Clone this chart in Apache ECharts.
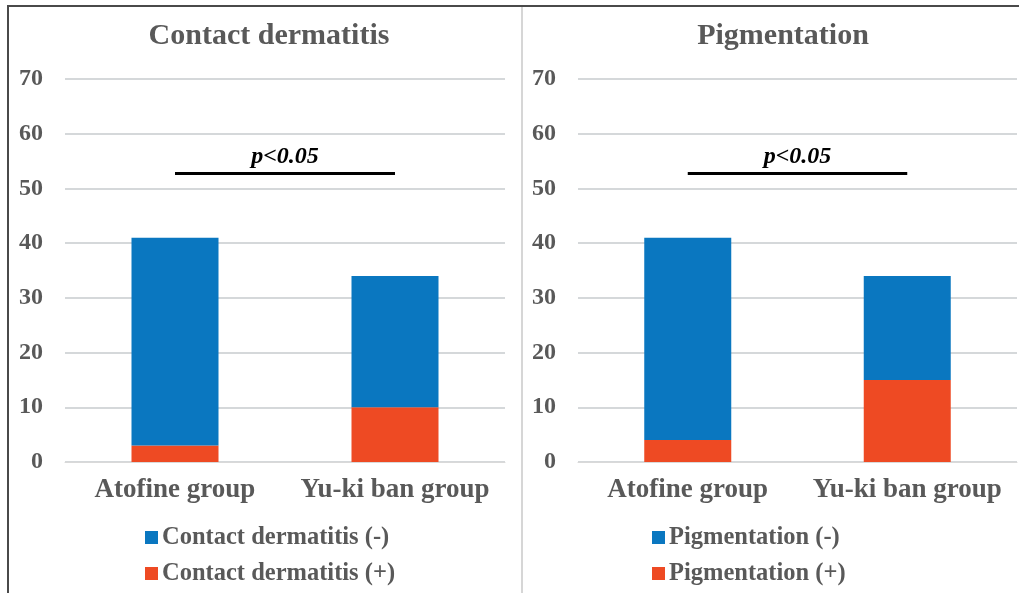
<!DOCTYPE html>
<html>
<head>
<meta charset="utf-8">
<script src="https://cdn.jsdelivr.net/npm/echarts@6/dist/echarts.min.js"></script>
<style>html,body{margin:0;padding:0;background:#fff;}#c{width:1019px;height:593px;}</style>
</head>
<body>
<div id="c"></div>
<script>
const categories = ['Atofine group', 'Yu-ki ban group'];
const titles = ['Contact dermatitis', 'Pigmentation'];
const dermNeg = [38, 24];
const dermPos = [3, 10];
const pigNeg = [37, 19];
const pigPos = [4, 15];
const sigLevel = [52.8, 52.8];
const sigText = 'p<0.05';
const yTicks = { min: 0, max: 70, interval: 10 };

const FONT = "'Liberation Serif', 'Times New Roman', serif";
const GRAY = '#595959';
const BLUE = '#0A77C0';
const RED = '#EE4A23';

const chart = echarts.init(document.getElementById('c'));

function xAxis(gi) {
  return {
    type: 'category', gridIndex: gi, data: categories,
    axisTick: { show: false },
    axisLine: { lineStyle: { color: '#D9D9D9', width: 1 } },
    axisLabel: { interval: 0, color: GRAY, fontFamily: FONT, fontWeight: 'bold', fontSize: 27, margin: 15 }
  };
}
function yAxis(gi) {
  return {
    type: 'value', gridIndex: gi, min: yTicks.min, max: yTicks.max, interval: yTicks.interval,
    axisLine: { show: false }, axisTick: { show: false },
    splitLine: { lineStyle: { color: '#D5D8DA', width: 2 } },
    axisLabel: { color: GRAY, fontFamily: FONT, fontWeight: 'bold', fontSize: 24, margin: 22 }
  };
}
function sigMark(gi) {
  return {
    symbol: 'none', silent: true,
    lineStyle: { color: '#000', width: 3, type: 'solid' },
    label: {
      show: true, position: 'insideMiddleTop', distance: 4, formatter: sigText,
      color: '#000', fontFamily: FONT, fontWeight: 'bold', fontStyle: 'italic', fontSize: 24
    },
    data: [[{ coord: [categories[0], sigLevel[gi]] }, { coord: [categories[1], sigLevel[gi]] }]]
  };
}
function bars(gi, name, neg, pos) {
  return [
    { name: name + ' (+)', type: 'bar', stack: 's' + gi, xAxisIndex: gi, yAxisIndex: gi,
      data: pos, barWidth: 87, itemStyle: { color: RED } },
    { name: name + ' (-)', type: 'bar', stack: 's' + gi, xAxisIndex: gi, yAxisIndex: gi,
      data: neg, barWidth: 87, itemStyle: { color: BLUE }, markLine: sigMark(gi) }
  ];
}
function legend(left, name) {
  return {
    orient: 'vertical', left: left, top: 520, itemWidth: 13, itemHeight: 13, itemGap: 11,
    icon: 'rect', data: [name + ' (-)', name + ' (+)'],
    textStyle: { color: GRAY, fontFamily: FONT, fontWeight: 'bold', fontSize: 24.5, padding: [0, 0, 0, -1] }
  };
}

chart.setOption({
  animation: false,
  title: [
    { text: titles[0], left: 264, top: 16, textAlign: 'center',
      textStyle: { color: GRAY, fontFamily: FONT, fontWeight: 'bold', fontSize: 30 } },
    { text: titles[1], left: 778, top: 16, textAlign: 'center',
      textStyle: { color: GRAY, fontFamily: FONT, fontWeight: 'bold', fontSize: 30 } }
  ],
  grid: [
    { left: 65, right: 514, top: 79, bottom: 131 },
    { left: 578, right: 2, top: 79, bottom: 131 }
  ],
  xAxis: [xAxis(0), xAxis(1)],
  yAxis: [yAxis(0), yAxis(1)],
  legend: [legend(140, titles[0]), legend(647, titles[1])],
  series: [].concat(bars(0, titles[0], dermNeg, dermPos), bars(1, titles[1], pigNeg, pigPos)),
  graphic: [
    { type: 'rect', shape: { x: 8, y: 6, width: 1030, height: 620 }, style: { fill: null, stroke: '#4a4a4a', lineWidth: 2 }, silent: true },
    { type: 'line', shape: { x1: 522, y1: 7, x2: 522, y2: 593 }, style: { stroke: '#C8C8C8', lineWidth: 1.5 }, silent: true }
  ]
});
</script>
</body>
</html>
